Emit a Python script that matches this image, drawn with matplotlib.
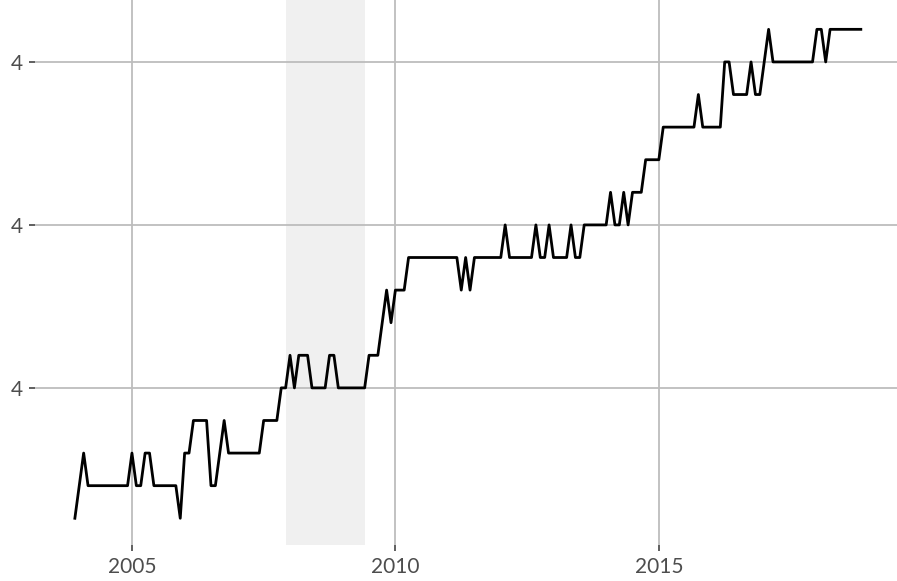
import numpy as np
import matplotlib.pyplot as plt

# monthly values, Dec 2003 .. Nov 2018
start_year = 2003 + 11 / 12
values = [
    3.82,
    3.84, 3.86, 3.84, 3.84, 3.84, 3.84, 3.84, 3.84, 3.84, 3.84, 3.84, 3.84,  # 2004
    3.86, 3.84, 3.84, 3.86, 3.86, 3.84, 3.84, 3.84, 3.84, 3.84, 3.84, 3.82,  # 2005
    3.86, 3.86, 3.88, 3.88, 3.88, 3.88, 3.84, 3.84, 3.86, 3.88, 3.86, 3.86,  # 2006
    3.86, 3.86, 3.86, 3.86, 3.86, 3.86, 3.88, 3.88, 3.88, 3.88, 3.90, 3.90,  # 2007
    3.92, 3.90, 3.92, 3.92, 3.92, 3.90, 3.90, 3.90, 3.90, 3.92, 3.92, 3.90,  # 2008
    3.90, 3.90, 3.90, 3.90, 3.90, 3.90, 3.92, 3.92, 3.92, 3.94, 3.96, 3.94,  # 2009
    3.96, 3.96, 3.96, 3.98, 3.98, 3.98, 3.98, 3.98, 3.98, 3.98, 3.98, 3.98,  # 2010
    3.98, 3.98, 3.98, 3.96, 3.98, 3.96, 3.98, 3.98, 3.98, 3.98, 3.98, 3.98,  # 2011
    3.98, 4.00, 3.98, 3.98, 3.98, 3.98, 3.98, 3.98, 4.00, 3.98, 3.98, 4.00,  # 2012
    3.98, 3.98, 3.98, 3.98, 4.00, 3.98, 3.98, 4.00, 4.00, 4.00, 4.00, 4.00,  # 2013
    4.00, 4.02, 4.00, 4.00, 4.02, 4.00, 4.02, 4.02, 4.02, 4.04, 4.04, 4.04,  # 2014
    4.04, 4.06, 4.06, 4.06, 4.06, 4.06, 4.06, 4.06, 4.06, 4.08, 4.06, 4.06,  # 2015
    4.06, 4.06, 4.06, 4.10, 4.10, 4.08, 4.08, 4.08, 4.08, 4.10, 4.08, 4.08,  # 2016
    4.10, 4.12, 4.10, 4.10, 4.10, 4.10, 4.10, 4.10, 4.10, 4.10, 4.10, 4.10,  # 2017
    4.12, 4.12, 4.10, 4.12, 4.12, 4.12, 4.12, 4.12, 4.12, 4.12, 4.12,        # 2018
]
years = start_year + np.arange(len(values)) / 12

# recession Dec 2007 - Jun 2009
rec_start = 2007 + 11 / 12
rec_end = 2009 + 5 / 12

xticks = [2005, 2010, 2015]
yticks = [3.90, 4.00, 4.10]

plt.rcParams['font.family'] = ['Lato', 'DejaVu Sans']

fig = plt.figure(figsize=(8.97, 5.81), dpi=100)
ax = fig.add_axes([35 / 897, 36 / 581, 1 - 35 / 897, 1 - 36 / 581])

ax.axvspan(rec_start, rec_end, color='#f0f0f0', zorder=0.2, lw=0)
ax.plot(years, values, color='black', lw=2, zorder=3)

ax.set_xlim(2003.16, 2019.52)
ax.set_ylim(3.8036, 4.138)
ax.set_xticks(xticks)
ax.set_yticks(yticks)
ax.set_yticklabels(['%.0f' % v for v in yticks])

ax.set_axisbelow(True)
ax.grid(True, color='#bdbdbd', lw=1.3)
for s in ax.spines.values():
    s.set_visible(False)
ax.tick_params(axis='both', labelsize=15, labelcolor='#4d4d4d', color='#333333',
               length=4.5, width=1.1, pad=4)

fig.savefig('out.png', dpi=100)
